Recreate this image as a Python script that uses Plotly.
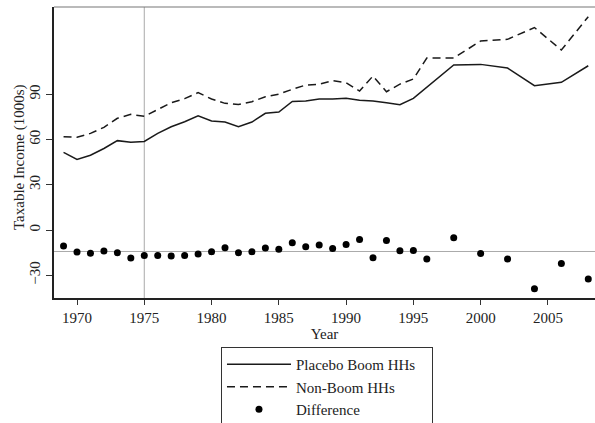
import plotly.graph_objects as go

# ---- data ----
years = [1969, 1970, 1971, 1972, 1973, 1974, 1975, 1976, 1977, 1978, 1979,
         1980, 1981, 1982, 1983, 1984, 1985, 1986, 1987, 1988, 1989, 1990,
         1991, 1992, 1993, 1994, 1995, 1996, 1998, 2000, 2002, 2004, 2006, 2008]

placebo_boom = [51.4, 46.8, 49.5, 54.0, 59.2, 58.1, 58.7, 64.0, 68.4, 71.7, 75.7,
                72.2, 71.5, 68.4, 71.5, 77.3, 78.1, 85.2, 85.4, 86.8, 86.8, 87.2,
                85.9, 85.4, 84.3, 83.0, 87.2, 94.5, 109.3, 109.7, 107.3, 95.6, 97.8, 108.8]

non_boom = [61.8, 61.4, 64.0, 68.0, 74.0, 76.6, 75.3, 80.0, 84.3, 87.0, 91.0,
            86.8, 83.9, 83.2, 85.0, 88.3, 90.0, 93.2, 96.0, 96.5, 98.9, 97.6,
            92.0, 102.0, 91.6, 96.6, 100.0, 113.9, 113.9, 125.2, 126.3, 134.1, 119.2, 141.3]

difference = [-10.6, -14.6, -15.4, -13.9, -15.0, -18.5, -16.8, -16.8, -17.2, -16.8, -15.9,
              -14.3, -11.7, -15.0, -14.3, -11.9, -12.8, -8.4, -11.0, -9.9, -12.3, -9.5,
              -6.2, -18.3, -7.0, -13.7, -13.5, -19.2, -5.1, -15.5, -19.2, -38.8, -22.1, -32.5]

event_year = 1975
ref_level = -14.2

x_ticks = [1970, 1975, 1980, 1985, 1990, 1995, 2000, 2005]
y_ticks = [-30, 0, 30, 60, 90]

FONT = "Liberation Serif, Times New Roman, serif"
PAD = "\u00a0\u00a0\u00a0"

fig = go.Figure()
fig.add_trace(go.Scatter(x=years, y=placebo_boom, mode="lines", name="Placebo Boom HHs" + PAD,
                         line=dict(color="#1a1a1a", width=1.5)))
fig.add_trace(go.Scatter(x=years, y=non_boom, mode="lines", name="Non-Boom HHs",
                         line=dict(color="#1a1a1a", width=1.5, dash="8px,5px")))
fig.add_trace(go.Scatter(x=years, y=difference, mode="markers", name="Difference",
                         marker=dict(color="black", size=7), cliponaxis=False))

# reference lines
fig.add_shape(type="line", xref="x", yref="paper", x0=event_year, x1=event_year, y0=0, y1=1,
              line=dict(color="#aaaaaa", width=1), layer="below")
fig.add_shape(type="line", xref="paper", yref="y", x0=0, x1=1, y0=ref_level, y1=ref_level,
              line=dict(color="#aaaaaa", width=1), layer="below")
# top frame line
fig.add_shape(type="line", xref="paper", yref="paper", x0=0, x1=1, y0=1, y1=1,
              line=dict(color="#777777", width=1.2))

# y-axis title as a rotated annotation
fig.add_annotation(text="Taxable Income (1000s)", xref="paper", yref="paper",
                   x=-0.0647, y=0.4845, textangle=-90, showarrow=False,
                   xanchor="center", yanchor="middle",
                   font=dict(family=FONT, size=15, color="#222222"))

fig.update_layout(
    width=595, height=423,
    margin=dict(l=54, r=0, t=7, b=125, autoexpand=False),
    paper_bgcolor="white", plot_bgcolor="white",
    font=dict(family=FONT, size=15, color="#222222"),
    showlegend=True,
    legend=dict(xref="container", yref="container", x=0.3714, y=0.1797,
                xanchor="left", yanchor="top",
                bordercolor="#333333", borderwidth=1, bgcolor="white",
                itemwidth=64,
                font=dict(family=FONT, size=15, color="#222222"),
                tracegroupgap=0),
)
fig.update_xaxes(range=[1968.29, 2008.5], tickvals=x_ticks, ticks="outside", ticklen=5,
                 tickcolor="#333333", showline=True, linecolor="#222222", linewidth=1.5,
                 showgrid=False, zeroline=False,
                 title=dict(text="Year", standoff=2, font=dict(family=FONT, size=15)))
fig.update_yaxes(range=[-45, 147.7], tickvals=y_ticks, ticks="outside", ticklen=6,
                 tickcolor="#333333", tickangle=-90, showline=True, linecolor="#222222",
                 linewidth=1.5, showgrid=False, zeroline=False)

fig.write_html("out.html", config={"displayModeBar": False},
               post_script="document.body.style.margin='0';")
